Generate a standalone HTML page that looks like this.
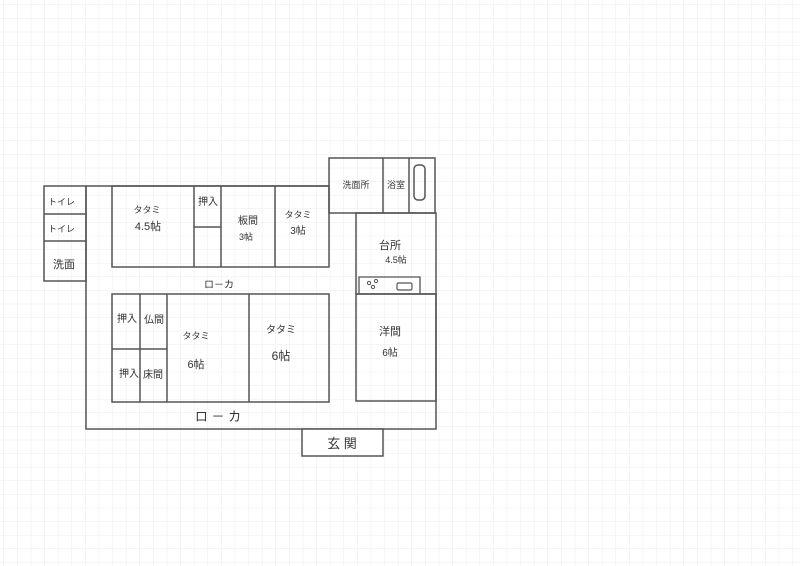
<!DOCTYPE html>
<html><head><meta charset="utf-8"><style>
html,body{margin:0;padding:0;background:#fff}
svg{display:block}
text{font-family:"Liberation Sans","Noto Sans CJK JP",sans-serif;fill:#333}
</style></head><body>
<svg width="800" height="566" viewBox="0 0 800 566" xmlns="http://www.w3.org/2000/svg">
<defs>
<pattern id="g" x="4" y="5" width="13.6" height="13.6" patternUnits="userSpaceOnUse">
<path d="M13.6 0V13.6M0 13.6H13.6" stroke="#ebebeb" stroke-width="1" fill="none"/>
</pattern>
</defs>
<rect width="800" height="566" fill="#fff"/>
<rect x="0" y="0" width="800" height="566" fill="url(#g)"/>
<g stroke="#555" stroke-width="1.5" fill="none">
<rect x="44" y="186" width="42" height="95"/>
<line x1="44" y1="214" x2="86" y2="214"/>
<line x1="44" y1="241" x2="86" y2="241"/>
<path d="M86 186H329M86 186V429H436V294"/>
<rect x="112" y="186" width="217" height="81"/>
<line x1="194" y1="186" x2="194" y2="267"/>
<line x1="221" y1="186" x2="221" y2="267"/>
<line x1="275" y1="186" x2="275" y2="267"/>
<line x1="194" y1="227" x2="221" y2="227"/>
<rect x="329" y="158" width="106" height="55"/>
<line x1="383" y1="158" x2="383" y2="213"/>
<line x1="409" y1="158" x2="409" y2="213"/>
<rect x="414" y="165" width="11" height="35" rx="4"/>
<rect x="356" y="213" width="80" height="81"/>
<rect x="356" y="294" width="80" height="107"/>
<path d="M359 294V277H420V294" stroke-width="1.3"/>
<rect x="397" y="283" width="15" height="7" rx="1.5" stroke-width="1.2"/>
<circle cx="369" cy="283" r="1.6" stroke-width="1"/>
<circle cx="376" cy="281" r="1.6" stroke-width="1"/>
<circle cx="373" cy="287" r="1.6" stroke-width="1"/>
<rect x="112" y="294" width="217" height="108"/>
<line x1="140" y1="294" x2="140" y2="402"/>
<line x1="167" y1="294" x2="167" y2="402"/>
<line x1="249" y1="294" x2="249" y2="402"/>
<line x1="112" y1="349" x2="167" y2="349"/>
<rect x="302" y="429" width="81" height="27" fill="#fff"/>
</g>
<g font-size="11" text-anchor="middle">
<text x="48" y="205" font-size="9" text-anchor="start">トイレ</text>
<text x="48" y="232" font-size="9" text-anchor="start">トイレ</text>
<text x="64" y="268" font-size="11">洗面</text>
<text x="147" y="213" font-size="9">タタミ</text>
<text x="148" y="230" font-size="11">4.5帖</text>
<text x="208" y="205" font-size="10">押入</text>
<text x="248" y="224" font-size="10">板間</text>
<text x="246" y="240" font-size="9">3帖</text>
<text x="298" y="218" font-size="9">タタミ</text>
<text x="298" y="234" font-size="10">3帖</text>
<text x="356" y="188" font-size="9">洗面所</text>
<text x="396" y="188" font-size="9">浴室</text>
<text x="390" y="249" font-size="11">台所</text>
<text x="396" y="263" font-size="9">4.5帖</text>
<text x="219" y="288" font-size="10">ロ－カ</text>
<text x="127" y="322" font-size="10">押入</text>
<text x="154" y="323" font-size="10">仏間</text>
<text x="129" y="377" font-size="10">押入</text>
<text x="153" y="378" font-size="10">床間</text>
<text x="196" y="339" font-size="9">タタミ</text>
<text x="196" y="368" font-size="11">6帖</text>
<text x="281" y="333" font-size="10">タタミ</text>
<text x="281" y="360" font-size="12">6帖</text>
<text x="390" y="335" font-size="11">洋間</text>
<text x="390" y="356" font-size="10">6帖</text>
<text x="218" y="421" font-size="13">ロ － カ</text>
<text x="342" y="448" font-size="13">玄 関</text>
</g>
</svg>
</body></html>
